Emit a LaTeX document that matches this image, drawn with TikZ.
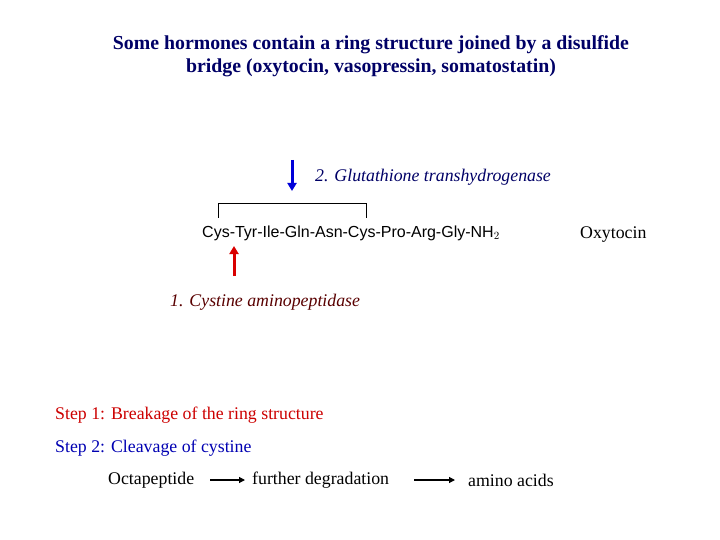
\documentclass[tikz,border=0pt]{standalone}
\usepackage{fontspec}
\usetikzlibrary{arrows.meta}
\setmainfont{Liberation Serif}
\newfontfamily\arial{Liberation Sans}
\begin{document}
\begin{tikzpicture}[x=1pt,y=-1pt,
  every node/.style={inner sep=0pt,font=\fontsize{17.8}{21}\selectfont},
  lbl/.style={anchor=west},
  fat/.style={line width=3pt,-{Triangle[length=8pt,width=9pt]}},
  thin/.style={line width=1.2pt,-{Triangle[length=6pt,width=6pt]}}]
\useasboundingbox (0,0) rectangle (720,540);
\node (title) [font=\fontsize{19.8}{23}\selectfont\bfseries,text=blue!40!black,align=center] at (371,56)
  {Some hormones contain a ring structure joined by a disulfide\\bridge (oxytocin, vasopressin, somatostatin)};
\coordinate (b1) at (292,160); \coordinate (b2) at (292,191);
\draw[fat,blue!85!black] (b1) -- (b2);
\node (glu) [lbl,text=blue!40!black,font=\fontsize{17.8}{21}\selectfont\itshape] at (315,177) {2. Glutathione transhydrogenase};
\node (pep) [lbl,font=\arial\fontsize{16}{19}\selectfont] at (202,233) {Cys-Tyr-Ile-Gln-Asn-Cys-Pro-Arg-Gly-NH$_2$};
\coordinate (k1) at (218,218); \coordinate (k2) at (366,218);
\draw (k1) -- ++(0,-15) -| (k2);
\coordinate (r1) at (234,276); \coordinate (r2) at (234,246);
\draw[fat,red!85!black] (r1) -- (r2);
\node (cys) [lbl,text=red!35!black,font=\fontsize{17.8}{21}\selectfont\itshape] at (170,302) {1. Cystine aminopeptidase};
\node (oxy) [lbl] at (580,235) {Oxytocin};
\node (s1) [lbl,text=red!80!black] at (55,415) {Step 1: Breakage of the ring structure};
\node (s2) [lbl,text=blue!70!black] at (55,448) {Step 2: Cleavage of cystine};
\node (oct) [lbl] at (108,480) {Octapeptide};
\node (fd) [lbl] at (252,480) {further degradation};
\node (aa) [lbl] at (468,480) {amino acids};
\coordinate (a1) at (210,480); \coordinate (a2) at (245,480);
\coordinate (a3) at (414,480); \coordinate (a4) at (455,480);
\draw[thin] (a1) -- (a2);
\draw[thin] (a3) -- (a4);
\end{tikzpicture}
\end{document}
